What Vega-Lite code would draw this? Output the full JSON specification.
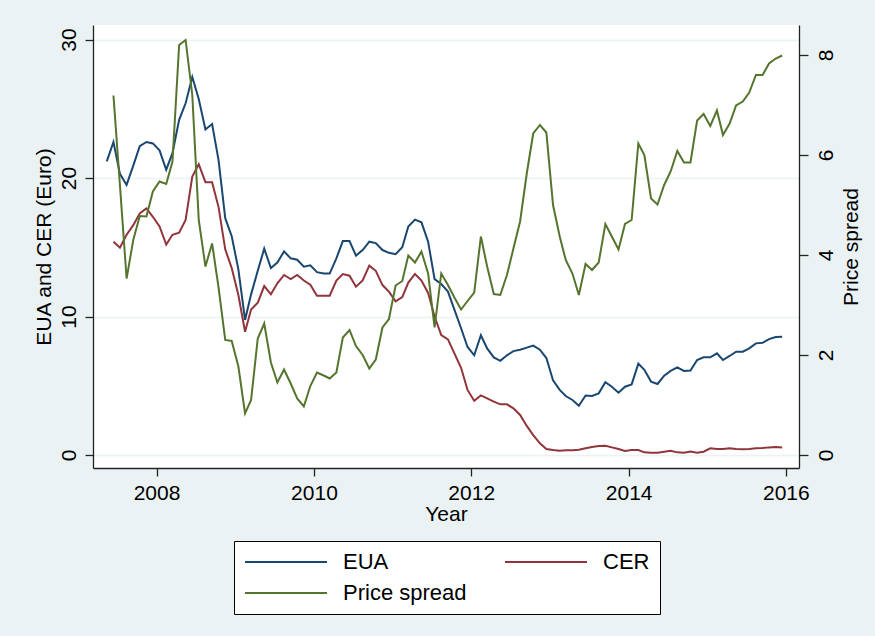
{
 "$schema": "https://vega.github.io/schema/vega-lite/v6.json",
 "width": 706,
 "height": 443,
 "autosize": {"type": "none"},
 "padding": {"left": 93, "top": 25, "right": 76, "bottom": 168},
 "background": "#EAF2F3",
 "config": {
  "view": {"fill": "white", "stroke": null},
  "font": "Liberation Sans",
  "axis": {"labelColor": "black", "titleColor": "black", "domainColor": "#222222", "tickColor": "#222222", "domainWidth": 1.3, "tickWidth": 1.3, "labelFontSize": 21, "titleFontSize": 21, "titleFontWeight": "normal", "labelFlush": false, "labelOverlap": false}
 },
 "data": {"values": [
  {"d":"2007-05-15","EUA":21.2,"CER":null,"Price spread":null},
  {"d":"2007-06-15","EUA":22.6,"CER":15.4,"Price spread":7.19},
  {"d":"2007-07-15","EUA":20.3,"CER":14.97,"Price spread":5.4},
  {"d":"2007-08-15","EUA":19.5,"CER":15.9,"Price spread":3.53},
  {"d":"2007-09-15","EUA":20.9,"CER":16.6,"Price spread":4.3},
  {"d":"2007-10-15","EUA":22.3,"CER":17.45,"Price spread":4.78},
  {"d":"2007-11-15","EUA":22.6,"CER":17.8,"Price spread":4.77},
  {"d":"2007-12-15","EUA":22.5,"CER":17.2,"Price spread":5.27},
  {"d":"2008-01-15","EUA":22.0,"CER":16.5,"Price spread":5.47},
  {"d":"2008-02-15","EUA":20.6,"CER":15.2,"Price spread":5.42},
  {"d":"2008-03-15","EUA":21.8,"CER":15.9,"Price spread":5.87},
  {"d":"2008-04-15","EUA":24.2,"CER":16.05,"Price spread":8.2},
  {"d":"2008-05-15","EUA":25.4,"CER":16.97,"Price spread":8.3},
  {"d":"2008-06-15","EUA":27.3,"CER":20.1,"Price spread":7.2},
  {"d":"2008-07-15","EUA":25.7,"CER":21.0,"Price spread":4.7},
  {"d":"2008-08-15","EUA":23.5,"CER":19.7,"Price spread":3.77},
  {"d":"2008-09-15","EUA":23.9,"CER":19.7,"Price spread":4.23},
  {"d":"2008-10-15","EUA":21.3,"CER":17.9,"Price spread":3.35},
  {"d":"2008-11-15","EUA":17.1,"CER":14.85,"Price spread":2.3},
  {"d":"2008-12-15","EUA":15.8,"CER":13.5,"Price spread":2.28},
  {"d":"2009-01-15","EUA":13.4,"CER":11.55,"Price spread":1.77},
  {"d":"2009-02-15","EUA":9.75,"CER":8.9,"Price spread":0.83},
  {"d":"2009-03-15","EUA":11.6,"CER":10.5,"Price spread":1.1},
  {"d":"2009-04-15","EUA":13.3,"CER":11.0,"Price spread":2.33},
  {"d":"2009-05-15","EUA":14.9,"CER":12.2,"Price spread":2.63},
  {"d":"2009-06-15","EUA":13.5,"CER":11.6,"Price spread":1.85},
  {"d":"2009-07-15","EUA":13.9,"CER":12.4,"Price spread":1.45},
  {"d":"2009-08-15","EUA":14.7,"CER":13.0,"Price spread":1.71},
  {"d":"2009-09-15","EUA":14.2,"CER":12.7,"Price spread":1.43},
  {"d":"2009-10-15","EUA":14.1,"CER":13.0,"Price spread":1.13},
  {"d":"2009-11-15","EUA":13.6,"CER":12.6,"Price spread":0.97},
  {"d":"2009-12-15","EUA":13.7,"CER":12.3,"Price spread":1.38},
  {"d":"2010-01-15","EUA":13.2,"CER":11.5,"Price spread":1.65},
  {"d":"2010-02-15","EUA":13.1,"CER":11.5,"Price spread":1.59},
  {"d":"2010-03-15","EUA":13.1,"CER":11.5,"Price spread":1.53},
  {"d":"2010-04-15","EUA":14.2,"CER":12.6,"Price spread":1.65},
  {"d":"2010-05-15","EUA":15.45,"CER":13.07,"Price spread":2.35},
  {"d":"2010-06-15","EUA":15.45,"CER":12.95,"Price spread":2.5},
  {"d":"2010-07-15","EUA":14.4,"CER":12.15,"Price spread":2.18},
  {"d":"2010-08-15","EUA":14.8,"CER":12.6,"Price spread":2.0},
  {"d":"2010-09-15","EUA":15.4,"CER":13.67,"Price spread":1.73},
  {"d":"2010-10-15","EUA":15.3,"CER":13.3,"Price spread":1.91},
  {"d":"2010-11-15","EUA":14.8,"CER":12.27,"Price spread":2.55},
  {"d":"2010-12-15","EUA":14.6,"CER":11.8,"Price spread":2.72},
  {"d":"2011-01-15","EUA":14.5,"CER":11.1,"Price spread":3.39},
  {"d":"2011-02-15","EUA":15.0,"CER":11.4,"Price spread":3.48},
  {"d":"2011-03-15","EUA":16.5,"CER":12.45,"Price spread":3.99},
  {"d":"2011-04-15","EUA":17.0,"CER":13.07,"Price spread":3.85},
  {"d":"2011-05-15","EUA":16.8,"CER":12.6,"Price spread":4.07},
  {"d":"2011-06-15","EUA":15.4,"CER":11.7,"Price spread":3.63},
  {"d":"2011-07-15","EUA":12.7,"CER":10.0,"Price spread":2.55},
  {"d":"2011-08-15","EUA":12.35,"CER":8.66,"Price spread":3.63},
  {"d":"2011-09-15","EUA":11.8,"CER":8.35,"Price spread":3.4},
  {"d":"2011-10-15","EUA":10.5,"CER":7.34,"Price spread":3.15},
  {"d":"2011-11-15","EUA":9.15,"CER":6.3,"Price spread":2.91},
  {"d":"2011-12-15","EUA":7.8,"CER":4.7,"Price spread":3.08},
  {"d":"2012-01-15","EUA":7.2,"CER":3.92,"Price spread":3.25},
  {"d":"2012-02-15","EUA":8.65,"CER":4.3,"Price spread":4.37},
  {"d":"2012-03-15","EUA":7.7,"CER":4.09,"Price spread":3.77},
  {"d":"2012-04-15","EUA":7.05,"CER":3.85,"Price spread":3.22},
  {"d":"2012-05-15","EUA":6.8,"CER":3.66,"Price spread":3.2},
  {"d":"2012-06-15","EUA":7.2,"CER":3.66,"Price spread":3.6},
  {"d":"2012-07-15","EUA":7.5,"CER":3.37,"Price spread":4.13},
  {"d":"2012-08-15","EUA":7.6,"CER":2.89,"Price spread":4.67},
  {"d":"2012-09-15","EUA":7.75,"CER":2.1,"Price spread":5.63},
  {"d":"2012-10-15","EUA":7.9,"CER":1.44,"Price spread":6.43},
  {"d":"2012-11-15","EUA":7.6,"CER":0.84,"Price spread":6.6},
  {"d":"2012-12-15","EUA":7.0,"CER":0.43,"Price spread":6.45},
  {"d":"2013-01-15","EUA":5.4,"CER":0.36,"Price spread":5.0},
  {"d":"2013-02-15","EUA":4.7,"CER":0.31,"Price spread":4.37},
  {"d":"2013-03-15","EUA":4.26,"CER":0.34,"Price spread":3.9},
  {"d":"2013-04-15","EUA":3.97,"CER":0.34,"Price spread":3.63},
  {"d":"2013-05-15","EUA":3.56,"CER":0.38,"Price spread":3.2},
  {"d":"2013-06-15","EUA":4.3,"CER":0.48,"Price spread":3.82},
  {"d":"2013-07-15","EUA":4.26,"CER":0.58,"Price spread":3.7},
  {"d":"2013-08-15","EUA":4.45,"CER":0.65,"Price spread":3.85},
  {"d":"2013-09-15","EUA":5.25,"CER":0.67,"Price spread":4.62},
  {"d":"2013-10-15","EUA":4.93,"CER":0.55,"Price spread":4.37},
  {"d":"2013-11-15","EUA":4.5,"CER":0.43,"Price spread":4.11},
  {"d":"2013-12-15","EUA":4.93,"CER":0.29,"Price spread":4.62},
  {"d":"2014-01-15","EUA":5.1,"CER":0.36,"Price spread":4.7},
  {"d":"2014-02-15","EUA":6.6,"CER":0.36,"Price spread":6.23},
  {"d":"2014-03-15","EUA":6.15,"CER":0.19,"Price spread":6.0},
  {"d":"2014-04-15","EUA":5.3,"CER":0.17,"Price spread":5.13},
  {"d":"2014-05-15","EUA":5.13,"CER":0.17,"Price spread":5.01},
  {"d":"2014-06-15","EUA":5.73,"CER":0.24,"Price spread":5.4},
  {"d":"2014-07-15","EUA":6.07,"CER":0.31,"Price spread":5.67},
  {"d":"2014-08-15","EUA":6.33,"CER":0.19,"Price spread":6.08},
  {"d":"2014-09-15","EUA":6.07,"CER":0.17,"Price spread":5.85},
  {"d":"2014-10-15","EUA":6.1,"CER":0.26,"Price spread":5.85},
  {"d":"2014-11-15","EUA":6.86,"CER":0.17,"Price spread":6.69},
  {"d":"2014-12-15","EUA":7.05,"CER":0.24,"Price spread":6.82},
  {"d":"2015-01-15","EUA":7.05,"CER":0.48,"Price spread":6.58},
  {"d":"2015-02-15","EUA":7.34,"CER":0.43,"Price spread":6.89},
  {"d":"2015-03-15","EUA":6.86,"CER":0.43,"Price spread":6.4},
  {"d":"2015-04-15","EUA":7.15,"CER":0.48,"Price spread":6.63},
  {"d":"2015-05-15","EUA":7.46,"CER":0.43,"Price spread":6.99},
  {"d":"2015-06-15","EUA":7.46,"CER":0.41,"Price spread":7.07},
  {"d":"2015-07-15","EUA":7.7,"CER":0.43,"Price spread":7.25},
  {"d":"2015-08-15","EUA":8.06,"CER":0.48,"Price spread":7.6},
  {"d":"2015-09-15","EUA":8.1,"CER":0.5,"Price spread":7.6},
  {"d":"2015-10-15","EUA":8.37,"CER":0.55,"Price spread":7.83},
  {"d":"2015-11-15","EUA":8.52,"CER":0.58,"Price spread":7.93},
  {"d":"2015-12-15","EUA":8.54,"CER":0.55,"Price spread":7.99}
 ]},
 "encoding": {
  "x": {
   "field": "d", "type": "temporal",
   "scale": {"type": "utc", "domain": [{"year": 2007, "month": 3, "date": 12, "utc": true}, {"year": 2016, "month": 3, "date": 2, "utc": true}]},
   "axis": {
    "values": [{"year": 2008, "utc": true}, {"year": 2010, "utc": true}, {"year": 2012, "utc": true}, {"year": 2014, "utc": true}, {"year": 2016, "utc": true}],
    "format": "%Y", "title": "Year", "grid": false, "tickSize": 8, "labelPadding": 6, "titlePadding": 0
   }
  }
 },
 "layer": [
  {
   "transform": [{"fold": ["EUA", "CER"], "as": ["series", "value"]}],
   "mark": {"type": "line", "strokeWidth": 2},
   "encoding": {
    "y": {
     "field": "value", "type": "quantitative",
     "scale": {"domain": [-0.939, 31.05], "nice": false, "zero": false},
     "axis": {"orient": "left", "values": [0, 10, 20, 30], "title": "EUA and CER (Euro)", "grid": true, "gridColor": "#EAF2F3", "gridWidth": 1.5, "labelAngle": 270, "labelAlign": "center", "labelBaseline": "bottom", "tickSize": 8, "labelPadding": 6, "titlePadding": 4}
    },
    "color": {
     "field": "series", "type": "nominal",
     "scale": {"domain": ["EUA", "CER", "Price spread"], "range": ["#1A476F", "#90353B", "#55752F"]},
     "legend": {"orient": "none", "legendX": 141, "legendY": 516, "direction": "horizontal", "columns": 2, "title": null, "symbolType": "stroke", "symbolSize": 6724, "symbolStrokeWidth": 2, "clipHeight": 22, "labelFontSize": 22, "labelOffset": 15, "columnPadding": 37, "rowPadding": 9, "padding": 10, "strokeColor": "black", "fillColor": "white", "labelColor": "black", "labelLimit": 300, "cornerRadius": 0}
    }
   }
  },
  {
   "transform": [{"fold": ["Price spread"], "as": ["series", "value"]}],
   "mark": {"type": "line", "strokeWidth": 2},
   "encoding": {
    "y": {
     "field": "value", "type": "quantitative",
     "scale": {"domain": [-0.26, 8.6], "nice": false, "zero": false},
     "axis": {"orient": "right", "values": [0, 2, 4, 6, 8], "title": "Price spread", "grid": false, "labelAngle": 270, "labelAlign": "center", "labelBaseline": "top", "tickSize": 9, "labelPadding": 7, "titleAngle": 270, "titleBaseline": "top", "titlePadding": 4}
    },
    "color": {"field": "series", "type": "nominal", "scale": {"domain": ["EUA", "CER", "Price spread"], "range": ["#1A476F", "#90353B", "#55752F"]}}
   }
  }
 ],
 "resolve": {"scale": {"y": "independent"}, "axis": {"y": "independent"}}
}
